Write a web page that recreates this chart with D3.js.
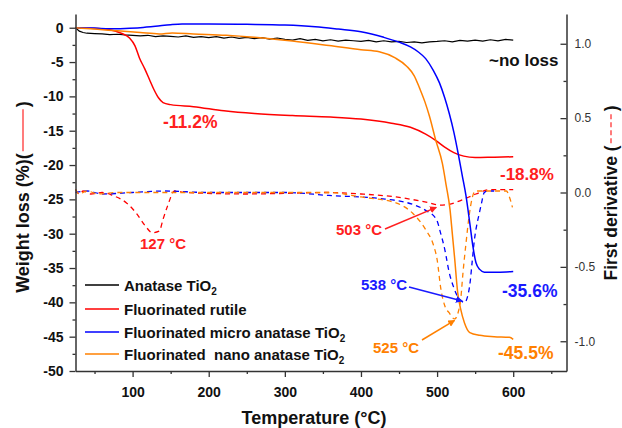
<!DOCTYPE html>
<html><head><meta charset="utf-8">
<script src="https://cdn.jsdelivr.net/npm/d3@7"></script>
<style>
body{margin:0;background:#fff}
svg{display:block}
text{font-family:"Liberation Sans",Arial,Helvetica,sans-serif}
</style>
</head><body>
<svg id="c" width="622" height="428"></svg>
<script>
// ---------------- DATA ----------------
const xTicks = [100, 200, 300, 400, 500, 600];
const xMinorTicks = [50, 150, 250, 350, 450, 550, 650];
const yLeftTicks = [0, -5, -10, -15, -20, -25, -30, -35, -40, -45, -50];
const yLeftMinor = [-2.5, -7.5, -12.5, -17.5, -22.5, -27.5, -32.5, -37.5, -42.5, -47.5];
const yRightTicks = [1.0, 0.5, 0.0, -0.5, -1.0];
const yRightMinor = [0.75, 0.25, -0.25, -0.75];

const seriesNames = ["Anatase TiO", "Fluorinated rutile", "Fluorinated micro anatase TiO", "Fluorinated  nano anatase TiO"];
const seriesSub = ["2", "", "2", "2"];
const seriesColors = ["#000000", "#ff0000", "#0000ff", "#ff8000"];

// Weight loss (%) curves
const anataseT = [25,30,35,40,50,60,70,80,90,100,110,120,130,140,150,160,170,180,190,200,210,220,230,240,250,260,270,280,290,300,310,320,330,340,350,360,370,380,390,400,410,420,430,440,450,460,470,480,490,500,510,520,530,540,550,560,570,580,590,600];
const anataseW = [0,-0.5,-0.7,-0.8,-0.85,-0.9,-1.0,-0.95,-1.05,-1.1,-1.2,-1.1,-1.3,-1.2,-1.25,-1.35,-1.2,-1.4,-1.3,-1.45,-1.3,-1.5,-1.35,-1.55,-1.4,-1.6,-1.45,-1.65,-1.5,-1.7,-1.8,-1.6,-1.85,-1.7,-1.9,-1.75,-1.95,-1.8,-1.9,-2.0,-1.85,-2.05,-1.9,-2.05,-2.0,-2.15,-2.05,-2.2,-2.05,-2.0,-1.9,-2.05,-1.85,-1.95,-1.8,-1.95,-1.75,-1.9,-1.7,-1.8];

const rutileT = [25,50,70,85,96,103,109,116,122,128,134,140,150,180,220,260,310,360,400,440,465,485,498,510,522,535,550,575,600];
const rutileW = [0,-0.1,-0.3,-0.8,-1.5,-2.6,-4.4,-6.0,-7.5,-9.0,-10.2,-10.9,-11.2,-11.5,-12.1,-12.5,-12.8,-13.0,-13.3,-13.9,-14.5,-15.5,-16.4,-17.4,-18.2,-18.7,-18.9,-18.85,-18.8];

const microT = [25,50,70,90,110,130,150,165,200,250,300,340,370,400,430,450,465,475,485,495,503,510,516,522,528,533,538,543,547,551,556,562,580,600];
const microW = [0,-0.05,-0.15,-0.1,0,0.2,0.45,0.55,0.55,0.5,0.4,0.15,-0.2,-0.6,-1.4,-2.1,-2.8,-3.5,-4.5,-6.2,-8.0,-10.2,-12.5,-15.2,-18.5,-21.5,-24.5,-28.5,-31.8,-34.2,-35.2,-35.6,-35.6,-35.5];

const nanoT = [25,50,80,110,135,152,180,223,260,310,358,400,424,445,460,470,477,484,490,498,507,512,517,520,523,527,531,536,543,556,575,595,600];
const nanoW = [0,-0.2,-0.45,-0.7,-0.9,-0.75,-0.9,-1.1,-1.4,-1.95,-2.6,-3.2,-3.5,-4.4,-5.6,-7.0,-8.8,-10.8,-12.9,-16.3,-19.8,-23.0,-26.5,-30.0,-33.5,-38.5,-41.0,-43.0,-44.4,-44.8,-45.0,-45.1,-45.4];

// First derivative curves
const dRutileT = [25,30,35,45,60,74,92,105,116,126,135,140,146,155,170,250,358,400,446,490,503,515,533,551,570,600];
const dRutileD = [0.02,-0.01,0.01,-0.01,0.0,-0.02,-0.07,-0.14,-0.22,-0.27,-0.26,-0.18,-0.09,0.01,0.0,-0.01,0.0,-0.01,-0.03,-0.07,-0.085,-0.08,-0.05,-0.01,0.02,0.02];

const dMicroT = [25,40,60,100,140,200,300,358,424,468,485,499,505,510,516,522,527,532,536,540,543,546,549,551,555,558,562,566,575];
const dMicroD = [0.0,0.01,-0.01,0.0,0.01,0.0,0.0,-0.02,-0.04,-0.08,-0.12,-0.18,-0.28,-0.38,-0.54,-0.64,-0.7,-0.73,-0.74,-0.7,-0.62,-0.47,-0.32,-0.25,-0.15,-0.08,0.0,0.01,0.01];

const dNanoT = [25,30,40,55,80,150,250,358,400,446,468,485,495,500,505,510,516,523,528,531,534,538,542,546,550,591,595,599];
const dNanoD = [0.02,-0.01,0.01,-0.01,0.0,0.0,0.0,0.0,-0.03,-0.07,-0.14,-0.25,-0.35,-0.45,-0.65,-0.76,-0.81,-0.85,-0.8,-0.72,-0.54,-0.34,-0.16,-0.04,0.01,0.01,-0.03,-0.1];

// Annotation texts
const lossLabels = ["~no loss", "-11.2%", "-18.8%", "-35.6%", "-45.5%"];
const peakLabels = ["127 °C", "503 °C", "538 °C", "525 °C"];
const peakTargets = [[499, -0.1], [533, -0.73], [523, -0.86]]; // (temperature, derivative) arrow tips

// ---------------- CHART ----------------
const svg = d3.select("#c");
const L = 75.5, R = 566.5, T = 14, B = 371;
const x = d3.scaleLinear([25, 670], [L, R]);
const yL = d3.scaleLinear([-50, 2], [B, T]);
const yR = d3.scaleLinear([-1.2, 1.2], [B, T]);
const FONT = '"Liberation Sans",Arial,sans-serif';
const axisColor = "#333";

// markers
const defs = svg.append("defs");
[["red", "#ff2020"], ["blue", "#1a1aff"], ["orange", "#ff8000"]].forEach(([id, c]) => {
  defs.append("marker").attr("id", "arr-" + id)
    .attr("viewBox", "0 0 10 10").attr("refX", 9).attr("refY", 5)
    .attr("markerWidth", 7).attr("markerHeight", 7).attr("markerUnits", "userSpaceOnUse")
    .attr("orient", "auto")
    .append("path").attr("d", "M0,0 L10,5 L0,10 z").attr("fill", c);
});

function zip(a, b) { return a.map((v, i) => [v, b[i]]); }

// derivative dashed curves
const lineR = d3.line().x(d => x(d[0])).y(d => yR(d[1])).curve(d3.curveMonotoneX);
const derivs = [[dRutileT, dRutileD, seriesColors[1]], [dMicroT, dMicroD, seriesColors[2]], [dNanoT, dNanoD, seriesColors[3]]];
derivs.forEach(([t, v, c]) => {
  svg.append("path").datum(zip(t, v)).attr("d", lineR)
    .attr("fill", "none").attr("stroke", c).attr("stroke-width", 1.3)
    .attr("stroke-dasharray", "5,4");
});

// weight loss curves
const lineL = d3.line().x(d => x(d[0])).y(d => yL(d[1])).curve(d3.curveMonotoneX);
const lineLin = d3.line().x(d => x(d[0])).y(d => yL(d[1]));
svg.append("path").datum(zip(anataseT, anataseW)).attr("d", lineLin)
  .attr("fill", "none").attr("stroke", seriesColors[0]).attr("stroke-width", 1.2);
[[rutileT, rutileW, seriesColors[1]], [microT, microW, seriesColors[2]], [nanoT, nanoW, seriesColors[3]]].forEach(([t, v, c]) => {
  svg.append("path").datum(zip(t, v)).attr("d", lineL)
    .attr("fill", "none").attr("stroke", c).attr("stroke-width", 1.5);
});

// axes
function styleAxis(g, weight, size) {
  g.select(".domain").attr("stroke", axisColor).attr("stroke-width", 1.5);
  g.selectAll(".tick line").attr("stroke", axisColor).attr("stroke-width", 1.3);
  g.selectAll("text").attr("font-family", FONT).attr("font-weight", weight)
    .attr("font-size", size).attr("fill", "#111");
}
const gx = svg.append("g").attr("transform", `translate(0,${B})`)
  .call(d3.axisBottom(x).tickValues(xTicks).tickSize(6).tickPadding(10).tickSizeOuter(0).tickFormat(d => String(d)));
styleAxis(gx, "bold", 14);
const gxm = svg.append("g").attr("transform", `translate(0,${B})`)
  .call(d3.axisBottom(x).tickValues(xMinorTicks).tickSize(3).tickFormat(""));
gxm.select(".domain").remove();
gxm.selectAll(".tick line").attr("stroke", axisColor).attr("stroke-width", 1.3);

const gl = svg.append("g").attr("transform", `translate(${L},0)`)
  .call(d3.axisLeft(yL).tickValues(yLeftTicks).tickSize(6).tickPadding(6).tickSizeOuter(0).tickFormat(d => String(d)));
styleAxis(gl, "bold", 14);
const glm = svg.append("g").attr("transform", `translate(${L},0)`)
  .call(d3.axisLeft(yL).tickValues(yLeftMinor).tickSize(3).tickFormat(""));
glm.select(".domain").remove();
glm.selectAll(".tick line").attr("stroke", axisColor).attr("stroke-width", 1.3);

const gr = svg.append("g").attr("transform", `translate(${R},0)`)
  .call(d3.axisRight(yR).tickValues(yRightTicks).tickSize(-6).tickPadding(8).tickSizeOuter(0).tickFormat(d => d.toFixed(1)));
styleAxis(gr, "normal", 12);
gr.selectAll("text").attr("fill", "#333");
const grm = svg.append("g").attr("transform", `translate(${R},0)`)
  .call(d3.axisRight(yR).tickValues(yRightMinor).tickSize(-3).tickFormat(""));
grm.select(".domain").remove();
grm.selectAll(".tick line").attr("stroke", axisColor).attr("stroke-width", 1.3);

// axis titles
svg.append("text").attr("x", 314).attr("y", 424).attr("text-anchor", "middle")
  .attr("font-weight", "bold").attr("font-size", 18).attr("fill", "#111").text("Temperature (°C)");

function vTitle(cx, cy, label, lineColor, dashed, size) {
  const g = svg.append("g").attr("transform", `translate(${cx},${cy}) rotate(-90)`);
  const t1 = g.append("text").attr("font-weight", "bold").attr("font-size", size).attr("fill", "#111")
    .attr("dominant-baseline", "central").text(label);
  const w1 = t1.node().getComputedTextLength();
  const lineLen = dashed ? 30 : 42;
  const t2 = g.append("text").attr("font-weight", "bold").attr("font-size", size).attr("fill", "#111")
    .attr("dominant-baseline", "central").text(")");
  const w2 = t2.node().getComputedTextLength();
  const total = w1 + 2 + lineLen + 2 + w2;
  const x0 = -total / 2;
  t1.attr("x", x0);
  g.append("line").attr("x1", x0 + w1 + 2).attr("x2", x0 + w1 + 2 + lineLen).attr("y1", 0).attr("y2", 0)
    .attr("stroke", lineColor).attr("stroke-width", 1.5)
    .attr("stroke-dasharray", dashed ? "5,3" : null);
  t2.attr("x", x0 + w1 + 4 + lineLen);
}
vTitle(23, 197, "Weight loss (%)(", "#ff5050", false, 18);
vTitle(611, 193, "First derivative (", "#ff5050", true, 17.5);

// legend
const legRows = [285, 309, 332, 354];
seriesNames.forEach((n, i) => {
  const yy = legRows[i];
  svg.append("line").attr("x1", 85).attr("x2", 119).attr("y1", yy).attr("y2", yy)
    .attr("stroke", seriesColors[i]).attr("stroke-width", 1.3);
  const t = svg.append("text").attr("x", 124).attr("y", yy + 5.5)
    .attr("font-weight", "bold").attr("font-size", 15).attr("fill", "#111")
    .attr("xml:space", "preserve").style("white-space", "pre");
  t.append("tspan").text(n);
  if (seriesSub[i]) t.append("tspan").attr("dy", 4).attr("font-size", 10).text(seriesSub[i]);
});

// annotation labels
function label(xp, yp, txt, color, size) {
  svg.append("text").attr("x", xp).attr("y", yp).attr("font-weight", "bold")
    .attr("font-size", size).attr("fill", color).text(txt);
}
label(489, 66, lossLabels[0], "#111", 17);
label(163, 128, lossLabels[1], "#ff2020", 17.5);
label(500, 180, lossLabels[2], "#ff2020", 17);
label(502, 297, lossLabels[3], "#1a1aff", 17.5);
label(498, 359, lossLabels[4], "#ff8000", 17.5);

label(140, 249, peakLabels[0], "#ff2020", 15);
label(336, 235, peakLabels[1], "#ff2020", 15);
label(361, 290, peakLabels[2], "#1a1aff", 15);
label(373, 353, peakLabels[3], "#ff8000", 15);

// arrows
function arrow(x1, y1, tgt, color, id) {
  svg.append("line").attr("x1", x1).attr("y1", y1)
    .attr("x2", x(tgt[0])).attr("y2", yR(tgt[1]))
    .attr("stroke", color).attr("stroke-width", 1.5)
    .attr("marker-end", `url(#arr-${id})`);
}
arrow(385, 229, peakTargets[0], "#ff2020", "red");
arrow(409, 287, peakTargets[1], "#1a1aff", "blue");
arrow(422, 340, peakTargets[2], "#ff8000", "orange");
</script>
</body></html>
